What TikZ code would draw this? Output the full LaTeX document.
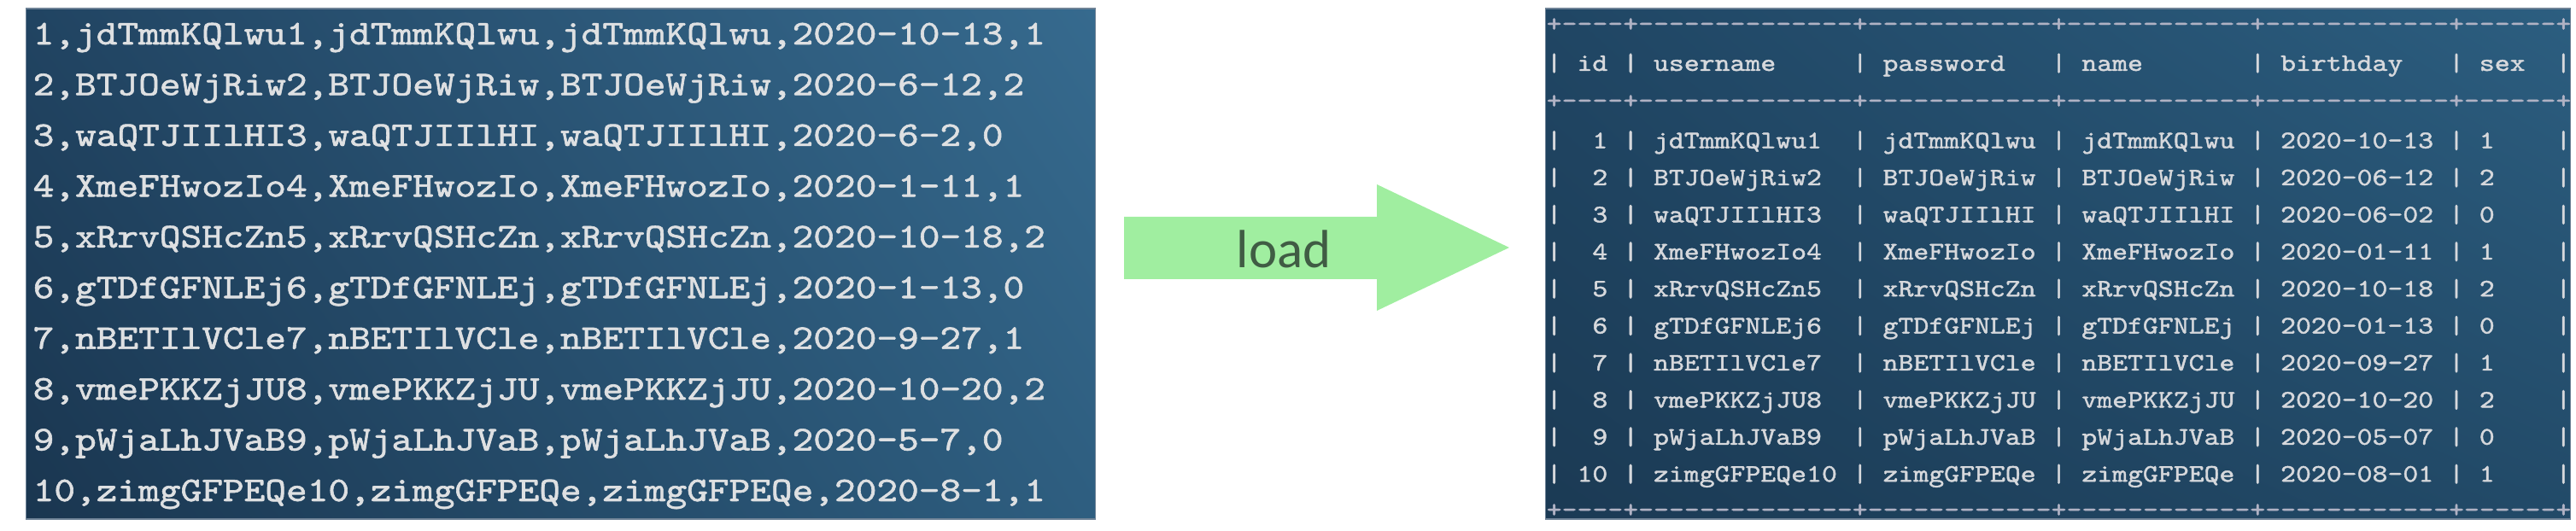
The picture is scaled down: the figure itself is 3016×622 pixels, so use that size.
\documentclass[tikz,border=0pt]{standalone}
\usepackage{fontspec}
\usetikzlibrary{shadings}
\setmonofont[FakeStretch=1.16,FakeBold=1.5]{lmmono10-regular.otf}
\newfontfamily\loadfont{Carlito}
\definecolor{arrowgreen}{RGB}{160,238,160}
\definecolor{loadtext}{RGB}{64,92,68}
\definecolor{csvtext}{RGB}{222,224,226}
\definecolor{tabtext}{RGB}{214,216,220}
\definecolor{tabrule}{RGB}{176,178,196}
\definecolor{paneledge}{RGB}{110,130,150}
\definecolor{lpUL}{RGB}{33,68,98}
\definecolor{lpUR}{RGB}{54,106,142}
\definecolor{lpLL}{RGB}{26,54,80}
\definecolor{lpLR}{RGB}{46,94,128}
\definecolor{rpUL}{RGB}{32,70,100}
\definecolor{rpUR}{RGB}{44,94,128}
\definecolor{rpLL}{RGB}{27,58,84}
\definecolor{rpLR}{RGB}{34,74,104}
\tikzset{
  leftpanel/.style={rectangle, inner sep=0pt, draw=paneledge, line width=0.4pt,
    minimum width=12.51cm, minimum height=5.98cm,
    upper left=lpUL, upper right=lpUR, lower left=lpLL, lower right=lpLR},
  rightpanel/.style={rectangle, inner sep=0pt, draw=paneledge, line width=0.4pt,
    minimum width=11.99cm, minimum height=5.98cm,
    upper left=rpUL, upper right=rpUR, lower left=rpLL, lower right=rpLR},
  csvline/.style={anchor=base west, inner sep=0pt, text=csvtext,
    font=\ttfamily\fontsize{11.53}{12}\selectfont},
  tabline/.style={anchor=base west, inner sep=0pt, text=tabtext,
    font=\ttfamily\fontsize{8.36}{9}\selectfont},
  tabborder/.style={tabline, text=tabrule},
  loadlabel/.style={anchor=base, inner sep=0pt, text=loadtext,
    font=\loadfont\fontsize{17.9}{20}\selectfont}
}
\begin{document}
\begin{tikzpicture}[x=0.01cm,y=-0.01cm]
\useasboundingbox (0,0) rectangle (3016,622);
% panels
\node[leftpanel] (src) at (656.5,309) {};
\node[rightpanel] (dst) at (2409.5,309) {};
% csv lines
\node[csvline] (l1) at (38,52.00) {1,jdTmmKQlwu1,jdTmmKQlwu,jdTmmKQlwu,2020-10-13,1};
\node[csvline] (l2) at (38,111.44) {2,BTJOeWjRiw2,BTJOeWjRiw,BTJOeWjRiw,2020-6-12,2};
\node[csvline] (l3) at (38,170.88) {3,waQTJIIlHI3,waQTJIIlHI,waQTJIIlHI,2020-6-2,0};
\node[csvline] (l4) at (38,230.32) {4,XmeFHwozIo4,XmeFHwozIo,XmeFHwozIo,2020-1-11,1};
\node[csvline] (l5) at (38,289.76) {5,xRrvQSHcZn5,xRrvQSHcZn,xRrvQSHcZn,2020-10-18,2};
\node[csvline] (l6) at (38,349.20) {6,gTDfGFNLEj6,gTDfGFNLEj,gTDfGFNLEj,2020-1-13,0};
\node[csvline] (l7) at (38,408.64) {7,nBETIlVCle7,nBETIlVCle,nBETIlVCle,2020-9-27,1};
\node[csvline] (l8) at (38,468.08) {8,vmePKKZjJU8,vmePKKZjJU,vmePKKZjJU,2020-10-20,2};
\node[csvline] (l9) at (38,527.52) {9,pWjaLhJVaB9,pWjaLhJVaB,pWjaLhJVaB,2020-5-7,0};
\node[csvline] (l10) at (38,586.96) {10,zimgGFPEQe10,zimgGFPEQe,zimgGFPEQe,2020-8-1,1};
% arrow
\fill[arrowgreen] (1316,254) -- (1612,254) -- (1612,216) -- (1767,290)
  -- (1612,364) -- (1612,327) -- (1316,327) -- cycle;
\node[loadlabel] (load) at (1503,314) {load};
% table lines
\node[tabborder] (rtop) at (1810,37) {+----+--------------+------------+------------+------------+------+};
\node[tabline] (rhead) at (1810,83) {|~id~|~username~~~~~|~password~~~|~name~~~~~~~|~birthday~~~|~sex~~|};
\node[tabborder] (rmid) at (1810,127) {+----+--------------+------------+------------+------------+------+};
\node[tabline] (r1) at (1810,173.6) {|~~1~|~jdTmmKQlwu1~~|~jdTmmKQlwu~|~jdTmmKQlwu~|~2020-10-13~|~1~~~~|};
\node[tabline] (r2) at (1810,217.0) {|~~2~|~BTJOeWjRiw2~~|~BTJOeWjRiw~|~BTJOeWjRiw~|~2020-06-12~|~2~~~~|};
\node[tabline] (r3) at (1810,260.4) {|~~3~|~waQTJIIlHI3~~|~waQTJIIlHI~|~waQTJIIlHI~|~2020-06-02~|~0~~~~|};
\node[tabline] (r4) at (1810,303.8) {|~~4~|~XmeFHwozIo4~~|~XmeFHwozIo~|~XmeFHwozIo~|~2020-01-11~|~1~~~~|};
\node[tabline] (r5) at (1810,347.2) {|~~5~|~xRrvQSHcZn5~~|~xRrvQSHcZn~|~xRrvQSHcZn~|~2020-10-18~|~2~~~~|};
\node[tabline] (r6) at (1810,390.6) {|~~6~|~gTDfGFNLEj6~~|~gTDfGFNLEj~|~gTDfGFNLEj~|~2020-01-13~|~0~~~~|};
\node[tabline] (r7) at (1810,434.0) {|~~7~|~nBETIlVCle7~~|~nBETIlVCle~|~nBETIlVCle~|~2020-09-27~|~1~~~~|};
\node[tabline] (r8) at (1810,477.4) {|~~8~|~vmePKKZjJU8~~|~vmePKKZjJU~|~vmePKKZjJU~|~2020-10-20~|~2~~~~|};
\node[tabline] (r9) at (1810,520.8) {|~~9~|~pWjaLhJVaB9~~|~pWjaLhJVaB~|~pWjaLhJVaB~|~2020-05-07~|~0~~~~|};
\node[tabline] (r10) at (1810,564.2) {|~10~|~zimgGFPEQe10~|~zimgGFPEQe~|~zimgGFPEQe~|~2020-08-01~|~1~~~~|};
\node[tabborder] (rbot) at (1810,606) {+----+--------------+------------+------------+------------+------+};
\end{tikzpicture}
\end{document}
